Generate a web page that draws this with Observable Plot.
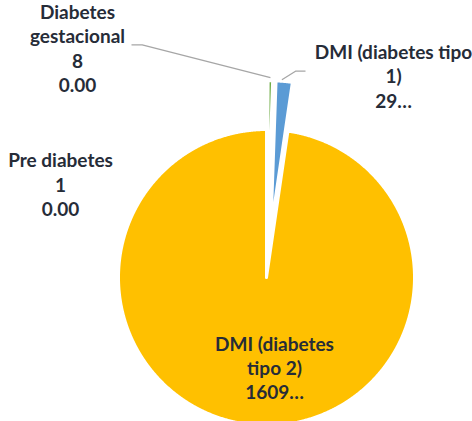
<!DOCTYPE html>
<html>
<head>
<meta charset="utf-8">
<script src="https://cdn.jsdelivr.net/npm/d3@7"></script>
<script src="https://cdn.jsdelivr.net/npm/@observablehq/plot@0.6"></script>
<style>
  html, body { margin: 0; padding: 0; background: #ffffff; }
  svg { display: block; }
</style>
</head>
<body>
<div id="chart"></div>
<script>
// ---- data (clockwise order, as in the source chart) ----
const categories = ["DMI (diabetes tipo 1)", "DMI (diabetes tipo 2)", "Pre diabetes", "Diabetes gestacional"];
const values = [29, 1609, 1, 8];
const labelTexts = [
  "DMI (diabetes tipo\n1)\n29…",
  "DMI (diabetes\ntipo 2)\n1609…",
  "Pre diabetes\n1\n0.00",
  "Diabetes\ngestacional\n8\n0.00"
];

// ---- style / layout ----
const colors = ["#5B9BD5", "#FFC000", "#4472C4", "#70AD47"];
const explode = [0.33, 0, 0.33, 0.33];        // fraction of radius
const startAngleDeg = 2;
const W = 472, H = 421;
const R = 148, CX = 266, CY = 277;             // pie radius & centre (px)
const ux = px => (px - CX) / R;
const uy = py => (CY - py) / R;
const fontSize = 19;
const lineHeight = 24.4 / fontSize;
const labelLayout = [                          // px: centre x, first baseline
  {x: 393, base: 58.3},
  {x: 274, base: 350},
  {x: 60,  base: 166.7},
  {x: 77,  base: 18.3}
];

// ---- pie geometry ----
const total = d3.sum(values);
let a = startAngleDeg * Math.PI / 180;
const slices = categories.map((name, i) => {
  const span = values[i] / total * 2 * Math.PI;
  const s = {name, a0: a, a1: a + span, mid: a + span / 2, e: explode[i]};
  s.ox = s.e * Math.sin(s.mid);
  s.oy = s.e * Math.cos(s.mid);
  a += span;
  return s;
});
const arcPt = (s, ang, r = 1) => ({x: s.ox + r * Math.sin(ang), y: s.oy + r * Math.cos(ang)});

const piePoints = [];
for (const s of slices) {
  piePoints.push({name: s.name, x: s.ox, y: s.oy});
  const n = Math.max(2, Math.ceil((s.a1 - s.a0) / 0.005));
  for (let k = 0; k <= n; ++k) {
    const p = arcPt(s, s.a0 + (s.a1 - s.a0) * k / n);
    piePoints.push({name: s.name, ...p});
  }
  piePoints.push({name: s.name, x: s.ox, y: s.oy});
}

// leader lines (label side is manual Excel placement; slice side from geometry)
const sBlue = slices[0], sGreen = slices[3];
const leaders = [
  {name: "blue", ...arcPt(sBlue, sBlue.a0 + 0.35 * (sBlue.a1 - sBlue.a0), 1.01)},
  {name: "blue", x: ux(295), y: uy(70.7)},
  {name: "blue", x: ux(305), y: uy(70.7)},
  {name: "green", x: ux(131), y: uy(44.3)},
  {name: "green", x: ux(141.7), y: uy(44.3)},
  {name: "green", ...arcPt(sGreen, sGreen.mid, 1.02)}
];

const labels = categories.map((name, i) => ({
  name,
  text: labelTexts[i],
  x: ux(labelLayout[i].x),
  y: uy(labelLayout[i].base - 0.71 * lineHeight * fontSize)
}));

const chart = Plot.plot({
  width: W,
  height: H,
  margin: 0,
  style: {background: "#ffffff", overflow: "hidden"},
  x: {domain: [ux(0), ux(W)], axis: null},
  y: {domain: [uy(H), uy(0)], axis: null},
  color: {domain: categories, range: colors},
  marks: [
    Plot.line(piePoints, {x: "x", y: "y", z: "name", fill: "name", stroke: "#ffffff", strokeWidth: 3, curve: "linear"}),
    Plot.line(leaders, {x: "x", y: "y", z: "name", stroke: "#A6A6A6", strokeWidth: 1.3, strokeLinecap: "butt", strokeLinejoin: "miter"}),
    Plot.text(labels, {
      x: "x", y: "y", text: "text",
      lineAnchor: "top", lineHeight, textAnchor: "middle",
      fontSize, fontWeight: "bold", fontFamily: "Lato, 'Open Sans', sans-serif",
      fill: "#262C38"
    })
  ]
});
document.getElementById("chart").appendChild(chart);
</script>
</body>
</html>
